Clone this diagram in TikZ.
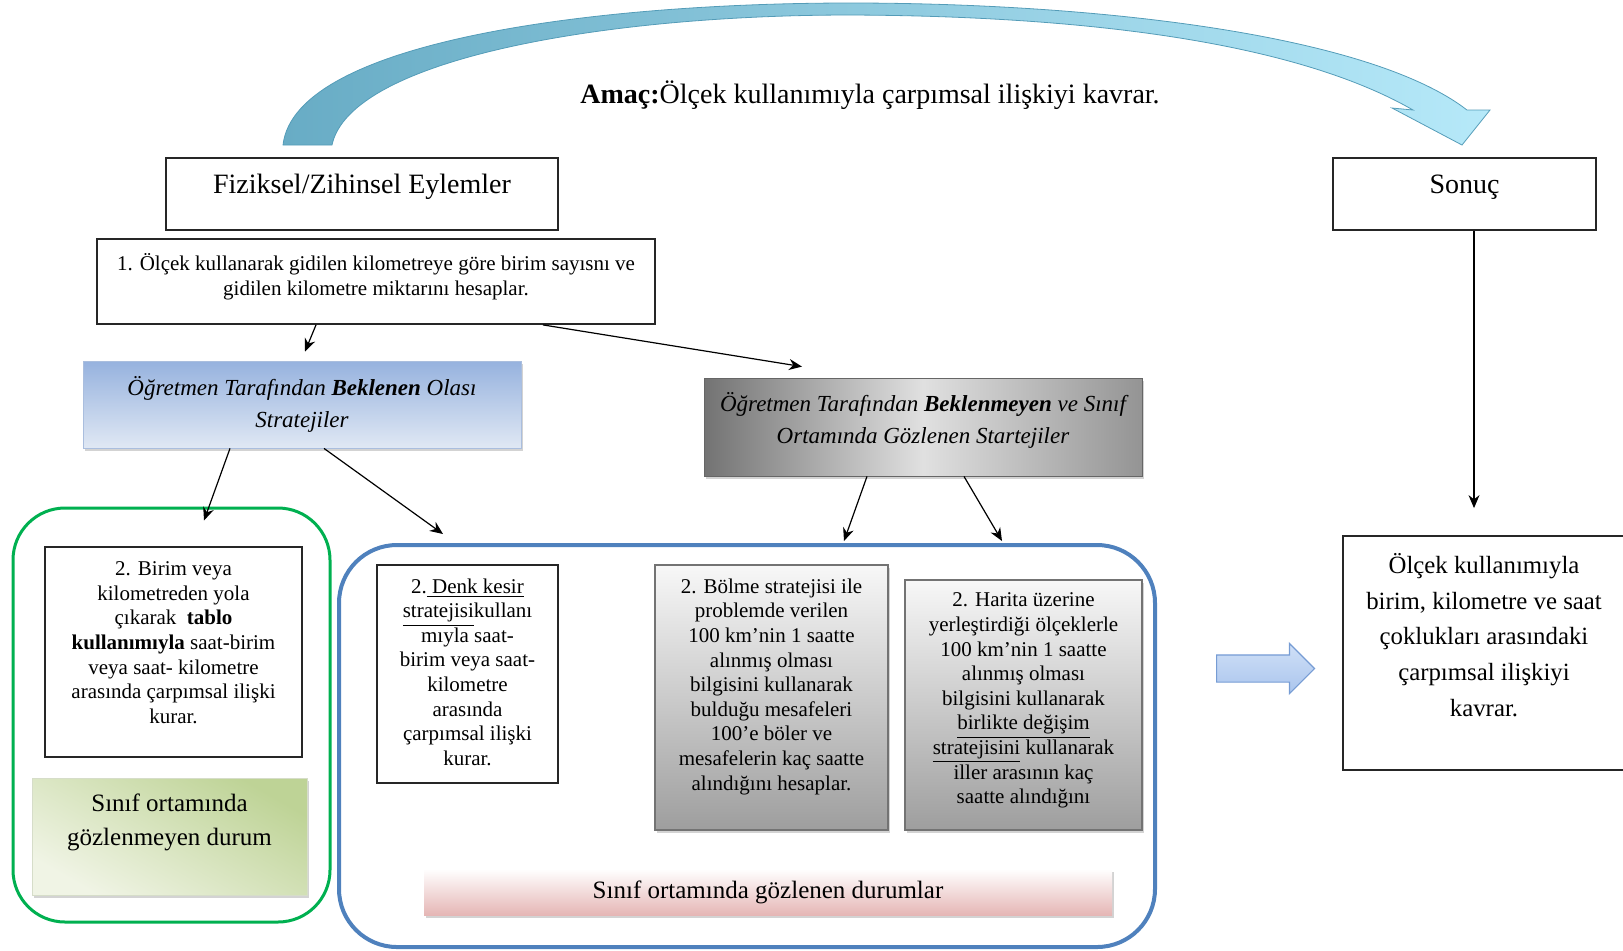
\documentclass[tikz,border=0pt]{standalone}
\usepackage{fontspec}
\setmainfont{Liberation Serif}
\usetikzlibrary{arrows.meta, positioning, shapes.arrows, shadows}

\definecolor{aimL}{RGB}{104,172,197}
\definecolor{aimR}{RGB}{182,233,249}
\definecolor{aimE}{RGB}{84,156,184}
\definecolor{unobsG}{RGB}{0,176,80}
\definecolor{obsB}{RGB}{79,129,189}
\definecolor{expT}{RGB}{150,178,222}
\definecolor{expB}{RGB}{224,232,244}
\definecolor{expE}{RGB}{170,190,222}
\definecolor{olive}{RGB}{190,211,150}
\definecolor{oliveL}{RGB}{240,244,229}
\definecolor{rose}{RGB}{229,182,181}
\definecolor{pushT}{RGB}{208,224,247}
\definecolor{pushB}{RGB}{170,197,237}
\definecolor{pushE}{RGB}{118,156,212}

\begin{document}
\begin{tikzpicture}[x=0.5pt, y=-0.5pt,
    box/.style={draw=black!85, line width=0.9pt, inner sep=0pt},
    txt/.style={align=center, inner sep=0pt},
    grp/.style={draw=#1, inner sep=0pt},
    shadebox/.style={inner sep=0pt, drop shadow={shadow xshift=1.2pt, shadow yshift=-1.5pt, opacity=.35}},
    greybox/.style={shadebox, draw=black!55, line width=0.6pt, top color=white!97!black, bottom color=black!38},
    link/.style={-{Stealth[length=6.5pt, width=5.5pt]}, line width=0.6pt},
    bigfont/.style={font=\fontsize{14}{17}\selectfont},
    midfont/.style={font=\fontsize{12.5}{17}\selectfont},
    smallfont/.style={font=\fontsize{10.5}{12.3}\selectfont},
    stratfont/.style={font=\fontsize{11.5}{16}\selectfont\itshape},
    resultfont/.style={font=\fontsize{12.4}{17.9}\selectfont}]

\useasboundingbox (0,0) rectangle (1623,950);

\shadedraw [left color=aimL, right color=aimR, draw=aimE, line width=0.4pt]
    (283,145) .. controls (295,40) and (600,3) .. (850,3)
    .. controls (1100,3) and (1370,35) .. (1467,110)
    -- (1490,110) -- (1462,145) -- (1392,108) -- (1413,110)
    .. controls (1300,45) and (1100,16) .. (850,15)
    .. controls (600,15) and (350,60) .. (332,145) -- cycle;

\node (aim) [bigfont] at (870,95) {\textbf{Amaç:}Ölçek kullanımıyla çarpımsal ilişkiyi kavrar.};

\node (fiz) [box, minimum width=196pt, minimum height=36pt] at (362,194) {};
\node (fiztxt) [txt, bigfont, below=8.5pt of fiz.north] {Fiziksel/Zihinsel Eylemler};

\node (sonuc) [box, minimum width=131.5pt, minimum height=36pt] at (1464.5,194) {};
\node (sonuctxt) [txt, bigfont, below=8.5pt of sonuc.north] {Sonuç};

\node (step1) [box, minimum width=279pt, minimum height=42.5pt] at (376,281.5) {};
\node (step1txt) [txt, smallfont, below=7.6pt of step1.north]
    {1. Ölçek kullanarak gidilen kilometreye göre birim sayısnı ve\\gidilen kilometre miktarını hesaplar.};

\node (expect) [shadebox, draw=expE, top color=expT, bottom color=expB,
    minimum width=219pt, minimum height=43.5pt] at (302,404.5) {};
\node (expecttxt) [txt, stratfont, below=7.7pt of expect.north]
    {Öğretmen Tarafından \textbf{Beklenen} Olası\\Stratejiler};

\node (unexpect) [shadebox, draw=black!60, left color=black!55, right color=black!42, middle color=black!12,
    minimum width=219pt, minimum height=49pt] at (923,427) {};
\node (unexpecttxt) [txt, stratfont, below=7.2pt of unexpect.north]
    {Öğretmen Tarafından \textbf{Beklenmeyen} ve Sınıf\\Ortamında Gözlenen Startejiler};

\node (unobsgrp) [grp=unobsG, line width=1.5pt, rounded corners=26pt,
    minimum width=158.5pt, minimum height=207pt] at (171.5,715) {};
\node (obsgrp) [grp=obsB, line width=2pt, rounded corners=29pt,
    minimum width=408pt, minimum height=201pt] at (747,746) {};

\node (birim) [box, minimum width=128.5pt, minimum height=105pt] at (173.5,652) {};
\node (birimtxt) [txt, smallfont, below=7.6pt of birim.north]
    {2. Birim veya\\kilometreden yola\\çıkarak \ \textbf{tablo}\\\textbf{kullanımıyla} saat-birim\\veya saat- kilometre\\arasında çarpımsal ilişki\\kurar.};

\node (unobs) [shadebox, draw=olive!80!black!40, top color=olive, bottom color=oliveL, shading angle=-30,
    minimum width=137.5pt, minimum height=58.5pt] at (169.5,836.5) {};
\node (unobstxt) [txt, midfont, below=7.75pt of unobs.north] {Sınıf ortamında\\gözlenmeyen durum};

\node (denk) [box, minimum width=90.5pt, minimum height=109pt] at (467.5,674) {};
\node (denktxt) [txt, smallfont, below=7pt of denk.north]
    {2.\underline{ Denk kesir}\\\underline{stratejisi}kullanı\\mıyla saat-\\birim veya saat-\\kilometre\\arasında\\çarpımsal ilişki\\kurar.};

\node (bolme) [greybox, minimum width=116.5pt, minimum height=132.5pt] at (771.5,697.5) {};
\node (bolmetxt) [txt, smallfont, below=7pt of bolme.north]
    {2. Bölme stratejisi ile\\problemde verilen\\100 km'nin 1 saatte\\alınmış olması\\bilgisini kullanarak\\bulduğu mesafeleri\\100'e böler ve\\mesafelerin kaç saatte\\alındığını hesaplar.};

\node (harita) [greybox, minimum width=118.5pt, minimum height=125pt] at (1023.5,705) {};
\node (haritatxt) [txt, smallfont, below=6.6pt of harita.north]
    {2. Harita üzerine\\yerleştirdiği ölçeklerle\\100 km'nin 1 saatte\\alınmış olması\\bilgisini kullanarak\\\underline{birlikte değişim}\\\underline{stratejisini} kullanarak\\iller arasının kaç\\saatte alındığını};

\node (obs) [shadebox, top color=white, bottom color=rose, midfont,
    minimum width=344pt, minimum height=23pt] at (768,892) {Sınıf ortamında gözlenen durumlar};

\node (push) [single arrow, draw=pushE, line width=0.6pt, top color=pushT, bottom color=pushB,
    minimum height=49pt, single arrow head extend=5.75pt,
    inner xsep=0pt, inner ysep=6.5pt, anchor=tail] at (1216,668.5) {};

\node (result) [box, minimum width=141pt, minimum height=117pt] at (1484,653) {};
\node (resulttxt) [txt, resultfont, below=8.8pt of result.north]
    {Ölçek kullanımıyla\\birim, kilometre ve saat\\çoklukları arasındaki\\çarpımsal ilişkiyi\\kavrar.};

\path [link]
    ([xshift=-30pt]step1.south) edge ([xshift=1.5pt, yshift=4.5pt]expect.north)
    ([xshift=83.5pt]step1.south) edge ([xshift=-60.5pt, yshift=5.5pt]unexpect.north)
    ([xshift=-36pt]expect.south) edge ([xshift=16.25pt, yshift=-7pt]unobsgrp.north)
    ([xshift=11pt]expect.south) edge ([xshift=-152pt, yshift=4.5pt]obsgrp.north)
    ([xshift=-28pt]unexpect.south) edge ([xshift=48.5pt, yshift=1pt]obsgrp.north)
    ([xshift=20.5pt]unexpect.south) edge ([xshift=127.5pt, yshift=1pt]obsgrp.north)
    ([xshift=4.75pt]sonuc.south) edge ([xshift=-5pt, yshift=13.5pt]result.north);

\end{tikzpicture}
\end{document}
